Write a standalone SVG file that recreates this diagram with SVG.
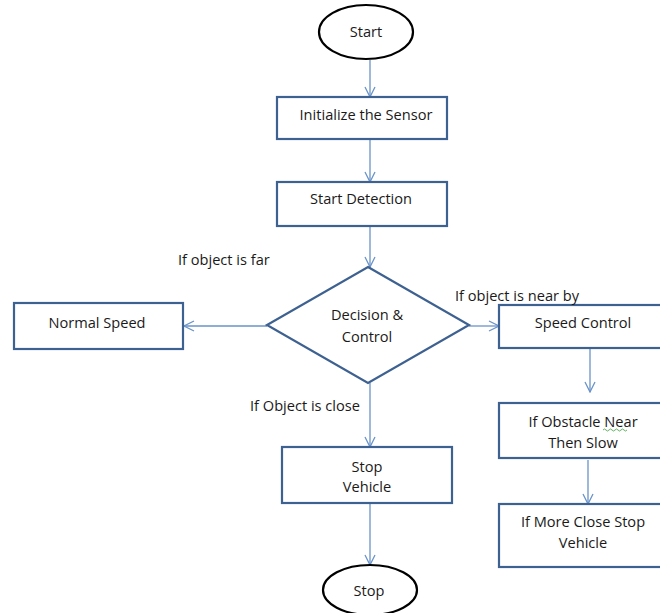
<svg xmlns="http://www.w3.org/2000/svg" width="660" height="613" viewBox="0 0 660 613">
<style>
.box{fill:#fff;stroke:#3d6190;stroke-width:2.2}
.term{fill:#fff;stroke:#000;stroke-width:2.2}
.con{stroke:#6a93c9;stroke-width:1.3;fill:none}
text{font-family:"Open Sans","Liberation Sans",sans-serif;font-size:14.6px;fill:#1a1a1a;text-anchor:middle}
.lbl{text-anchor:start}
</style>
<defs>
<marker id="arr" viewBox="0 0 12 12" refX="11" refY="6" markerWidth="12" markerHeight="12" markerUnits="userSpaceOnUse" orient="auto">
<path d="M1,1 L11,6 L1,11" fill="none" stroke="#6a93c9" stroke-width="1.3"/>
</marker>
</defs>
<rect width="660" height="613" fill="#fff"/>
<g id="connectors">
<line class="con" x1="370" y1="60" x2="370" y2="97" marker-end="url(#arr)"/>
<line class="con" x1="370" y1="140" x2="370" y2="182" marker-end="url(#arr)"/>
<line class="con" x1="370" y1="227" x2="370" y2="267" marker-end="url(#arr)"/>
<line class="con" x1="267" y1="326" x2="184" y2="326" marker-end="url(#arr)"/>
<line class="con" x1="469" y1="326" x2="499" y2="326" marker-end="url(#arr)"/>
<line class="con" x1="370" y1="383" x2="370" y2="447" marker-end="url(#arr)"/>
<line class="con" x1="370" y1="504" x2="370" y2="565" marker-end="url(#arr)"/>
<line class="con" x1="590" y1="349" x2="590" y2="392" marker-end="url(#arr)"/>
<line class="con" x1="588" y1="460" x2="588" y2="504" marker-end="url(#arr)"/>
</g>
<g id="start"><ellipse class="term" cx="366" cy="32" rx="47" ry="27"/><text x="366" y="37">Start</text></g>
<g id="init"><rect class="box" x="277" y="97" width="170" height="42"/><text x="366" y="120">Initialize the Sensor</text></g>
<g id="detect"><rect class="box" x="277" y="182" width="170" height="44"/><text x="361" y="204">Start Detection</text></g>
<g id="decision"><polygon class="box" points="368,267 469,325 368,383 267,325"/><text x="367" y="320">Decision &amp;</text><text x="367" y="342">Control</text></g>
<g id="normal"><rect class="box" x="14" y="303" width="169" height="46"/><text x="97" y="328">Normal Speed</text></g>
<g id="speed"><rect class="box" x="499" y="305" width="170" height="43"/><text x="583" y="328">Speed Control</text></g>
<g id="slow"><rect class="box" x="499" y="403" width="170" height="55"/><text x="583" y="427">If Obstacle Near</text><text x="583" y="448">Then Slow</text><path d="M603,430 q1.5,-2 3,0 t3,0 t3,0 t3,0 t3,0 t3,0 t3,0 t3,0" fill="none" stroke="#3aa33a" stroke-width="0.8"/></g>
<g id="close"><rect class="box" x="499" y="504" width="170" height="63"/><text x="583" y="527">If More Close Stop</text><text x="583" y="548">Vehicle</text></g>
<g id="stopv"><rect class="box" x="282" y="447" width="170" height="56"/><text x="367" y="472">Stop</text><text x="367" y="492">Vehicle</text></g>
<g id="stop"><ellipse class="term" cx="370" cy="590" rx="47" ry="25"/><text x="369" y="596">Stop</text></g>
<g id="labels">
<text class="lbl" x="178" y="265">If object is far</text>
<text class="lbl" x="455" y="301">If object is near by</text>
<text class="lbl" x="250" y="411">If Object is close</text>
</g>
</svg>
